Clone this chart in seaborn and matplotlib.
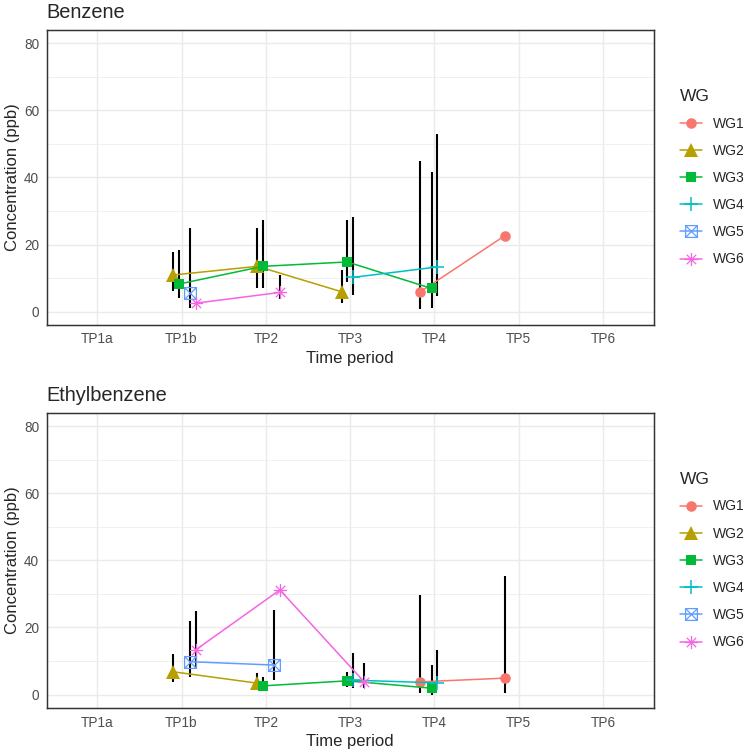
import numpy as np
import pandas as pd
import seaborn as sns
import matplotlib.pyplot as plt
from matplotlib.path import Path
from matplotlib.lines import Line2D

sns.set_style('white')
plt.rcParams['font.family'] = ['Liberation Sans', 'DejaVu Sans']

periods = ['TP1a', 'TP1b', 'TP2', 'TP3', 'TP4', 'TP5', 'TP6']
groups = ['WG1', 'WG2', 'WG3', 'WG4', 'WG5', 'WG6']
colors = ['#F8766D', '#B79F00', '#00BA38', '#00BFC4', '#619CFF', '#F564E3']

# Benzene: one row per group / time period, with low-high bar
benz_wg = ['WG1', 'WG1', 'WG2', 'WG2', 'WG2', 'WG3', 'WG3', 'WG3', 'WG3',
           'WG4', 'WG4', 'WG5', 'WG6', 'WG6']
benz_tp = ['TP4', 'TP5', 'TP1b', 'TP2', 'TP3', 'TP1b', 'TP2', 'TP3', 'TP4',
           'TP3', 'TP4', 'TP1b', 'TP1b', 'TP2']
benz_val = [5.9, 22.6, 10.9, 13.5, 5.9, 8.2, 13.5, 14.8, 6.9,
            10.2, 13.3, 5.5, 2.5, 5.7]
benz_lo = [0.7, np.nan, 6.2, 7.0, 2.5, 4.0, 7.0, 8.9, 1.0,
           5.0, 4.5, 1.0, np.nan, 3.7]
benz_hi = [44.9, np.nan, 17.9, 24.8, 12.4, 18.3, 27.3, 27.3, 41.7,
           28.1, 52.9, 24.8, np.nan, 10.9]

# Ethylbenzene
ethb_wg = ['WG1', 'WG1', 'WG2', 'WG2', 'WG3', 'WG3', 'WG3', 'WG4', 'WG4',
           'WG5', 'WG5', 'WG6', 'WG6', 'WG6']
ethb_tp = ['TP4', 'TP5', 'TP1b', 'TP2', 'TP2', 'TP3', 'TP4', 'TP3', 'TP4',
           'TP1b', 'TP2', 'TP1b', 'TP2', 'TP3']
ethb_val = [3.8, 4.9, 6.8, 3.4, 2.6, 4.1, 1.9, 4.3, 3.5,
            9.8, 8.8, 13.3, 31.2, 3.8]
ethb_lo = [0.4, 0.4, 3.8, 2.4, 2.0, 2.4, 0.0, 1.9, 3.8,
           5.2, 4.4, 8.0, np.nan, 1.9]
ethb_hi = [29.7, 35.3, 12.1, 6.3, 5.3, 6.8, 8.8, 12.3, 13.3,
           21.9, 25.2, 24.9, np.nan, 9.5]

# marker shapes similar to ggplot shapes 16, 17, 15, 3, 7, 8
sqx = Path([(-1, -1), (1, -1), (1, 1), (-1, 1), (-1, -1), (-1, -1), (1, 1), (-1, 1), (1, -1)],
           [Path.MOVETO, Path.LINETO, Path.LINETO, Path.LINETO, Path.CLOSEPOLY,
            Path.MOVETO, Path.LINETO, Path.MOVETO, Path.LINETO])
d = 0.7071
star = Path([(-1, 0), (1, 0), (0, -1), (0, 1), (-d, -d), (d, d), (-d, d), (d, -d)],
            [Path.MOVETO, Path.LINETO] * 4)
markers = {'WG1': dict(marker='o', ms=7.6, mfc=colors[0], mec=colors[0], mew=0),
           'WG2': dict(marker='^', ms=9.5, mfc=colors[1], mec=colors[1], mew=0),
           'WG3': dict(marker='s', ms=7.6, mfc=colors[2], mec=colors[2], mew=0),
           'WG4': dict(marker='+', ms=10, mec=colors[3], mew=1.1),
           'WG5': dict(marker=sqx, ms=8.5, mfc='none', mec=colors[4], mew=0.9),
           'WG6': dict(marker=star, ms=9.5, mfc='none', mec=colors[5], mew=0.9)}

dodge = 0.4


def make_df(wg, tp, val, lo, hi):
    df = pd.DataFrame({'WG': wg, 'period': tp, 'value': val, 'lo': lo, 'hi': hi})
    gi = df['WG'].map({g: i for i, g in enumerate(groups)})
    df['x'] = df['period'].map({p: i for i, p in enumerate(periods)}) + (gi - 2.5) * dodge / len(groups)
    return df.sort_values(['WG', 'x'])


benz = make_df(benz_wg, benz_tp, benz_val, benz_lo, benz_hi)
ethb = make_df(ethb_wg, ethb_tp, ethb_val, ethb_lo, ethb_hi)

fig = plt.figure(figsize=(7.48, 7.54), dpi=100)
ax1 = fig.add_axes([0.0624, 0.5690, 0.8113, 0.3912])
ax2 = fig.add_axes([0.0624, 0.0610, 0.8113, 0.3916])


def draw_panel(ax, df, title):
    bars = df.dropna(subset=['lo', 'hi'])
    ax.vlines(bars['x'], bars['lo'], bars['hi'], color='black', lw=1.5, zorder=2)
    for i, g in enumerate(groups):
        sub = df[df['WG'] == g]
        if len(sub) == 0:
            continue
        sns.lineplot(data=sub, x='x', y='value', ax=ax, color=colors[i], lw=1.1,
                     sort=False, legend=False, zorder=3, **markers[g])
    ax.set_xlim(-0.6, 6.6)
    ax.set_ylim(-4, 84)
    ax.set_xticks(range(len(periods)))
    ax.set_xticklabels(periods)
    ax.set_yticks([0, 20, 40, 60, 80])
    ax.set_yticks([10, 30, 50, 70], minor=True)
    ax.grid(True, which='major', color='#EBEBEB', lw=1.07, zorder=0)
    ax.grid(True, which='minor', axis='y', color='#EBEBEB', lw=0.53, zorder=0)
    ax.set_axisbelow(True)
    ax.tick_params(which='major', length=3, width=1.07, color='#333333',
                   labelsize=9.8, labelcolor='#4D4D4D', pad=2.4)
    ax.tick_params(which='minor', length=0)
    for s in ax.spines.values():
        s.set_color('#333333')
        s.set_linewidth(1.07)
    ax.set_xlabel('Time period', fontsize=12, labelpad=3)
    ax.set_ylabel('Concentration (ppb)', fontsize=12, labelpad=3)
    ax.set_title(title, loc='left', fontsize=14.4, pad=8.5)


draw_panel(ax1, benz, 'Benzene')
draw_panel(ax2, ethb, 'Ethylbenzene')

handles = [Line2D([], [], color=colors[i], lw=1.1, **markers[g]) for i, g in enumerate(groups)]
for top in [89, 472]:
    leg = fig.legend(handles, groups, title='WG', loc='upper left',
                     bbox_to_anchor=(680 / 748, 1 - top / 754), frameon=False,
                     fontsize=10, title_fontsize=12.5, handlelength=1.6,
                     handletextpad=0.8, labelspacing=0.95, borderpad=0,
                     borderaxespad=0, alignment='left')
    leg._legend_box.sep = 9

fig.savefig('out.png', dpi=100)
